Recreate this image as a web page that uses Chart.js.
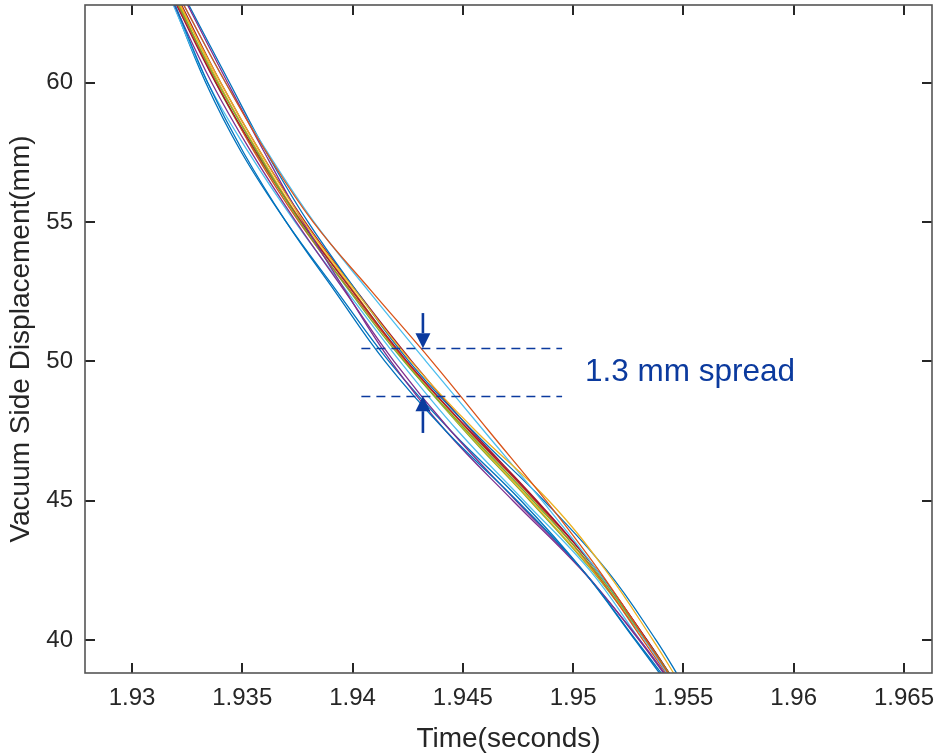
<!DOCTYPE html>
<html>
<head>
<meta charset="utf-8">
<script src="https://cdn.jsdelivr.net/npm/chart.js@4.4.0/dist/chart.umd.min.js"></script>
<style>
  html, body { margin: 0; padding: 0; background: #fff; }
  #wrap { width: 935px; height: 756px; position: relative; }
</style>
</head>
<body>
<div id="wrap"><canvas id="displacementChart"></canvas></div>
<script>
// displacement levels (mm) and the time (s) each run passes them
const levels = [63, 60, 57.5, 55, 52.5, 50, 47.5, 45, 42.5, 40, 38.5];

const run01 = [1.93184, 1.93343, 1.93505, 1.93699, 1.93921, 1.94147, 1.94423, 1.94746, 1.95044, 1.95285, 1.95430];
const run02 = [1.93220, 1.93424, 1.93609, 1.93821, 1.94088, 1.94360, 1.94618, 1.94877, 1.95117, 1.95331, 1.95457];
const run03 = [1.93202, 1.93402, 1.93582, 1.93780, 1.94016, 1.94265, 1.94559, 1.94890, 1.95148, 1.95362, 1.95480];
const run04 = [1.93238, 1.93433, 1.93600, 1.93776, 1.93970, 1.94174, 1.94423, 1.94727, 1.95040, 1.95303, 1.95443];
const run05 = [1.93197, 1.93388, 1.93569, 1.93762, 1.93988, 1.94233, 1.94519, 1.94818, 1.95099, 1.95331, 1.95462];
const run06 = [1.93220, 1.93424, 1.93614, 1.93825, 1.94075, 1.94333, 1.94596, 1.94859, 1.95108, 1.95326, 1.95452];
const run07 = [1.93188, 1.93379, 1.93564, 1.93767, 1.94002, 1.94247, 1.94532, 1.94832, 1.95108, 1.95335, 1.95462];
const run08 = [1.93243, 1.93442, 1.93609, 1.93798, 1.94020, 1.94256, 1.94546, 1.94868, 1.95153, 1.95376, 1.95493];
const run09 = [1.93193, 1.93383, 1.93555, 1.93757, 1.93993, 1.94242, 1.94528, 1.94827, 1.95094, 1.95317, 1.95448];
const run10 = [1.93207, 1.93393, 1.93573, 1.93771, 1.94007, 1.94238, 1.94514, 1.94809, 1.95089, 1.95331, 1.95457];
const run11 = [1.93179, 1.93361, 1.93541, 1.93744, 1.93966, 1.94188, 1.94446, 1.94741, 1.95044, 1.95299, 1.95439];
const run12 = [1.93202, 1.93379, 1.93559, 1.93767, 1.94002, 1.94238, 1.94509, 1.94804, 1.95085, 1.95326, 1.95457];
const run13 = [1.93175, 1.93343, 1.93528, 1.93739, 1.93975, 1.94215, 1.94478, 1.94777, 1.95076, 1.95303, 1.95439];
const run14 = [1.93211, 1.93402, 1.93582, 1.93785, 1.94020, 1.94269, 1.94541, 1.94836, 1.95108, 1.95335, 1.95462];
const run15 = [1.93179, 1.93334, 1.93496, 1.93699, 1.93930, 1.94165, 1.94446, 1.94764, 1.95044, 1.95281, 1.95421];

const runs = [run01, run02, run03, run04, run05, run06, run07, run08, run09, run10, run11, run12, run13, run14, run15];
const runColors = ['#0072BD', '#D95319', '#EDB120', '#7E2F8E', '#77AC30', '#4DBEEE', '#A2142F'];

const xTicks = [1.93, 1.935, 1.94, 1.945, 1.95, 1.955, 1.96, 1.965];
const xTickLabels = ['1.93', '1.935', '1.94', '1.945', '1.95', '1.955', '1.96', '1.965'];
const yTicks = [40, 45, 50, 55, 60];
const yTickLabels = ['40', '45', '50', '55', '60'];
const xRange = [1.92787, 1.96627];
const yRange = [38.82, 62.78];

// spread annotation
const spreadLines = [50.47, 48.75];
const spreadFrom = 1.9404;
const spreadTo = 1.9495;
const arrowAt = 1.94319;
const arrowTails = [51.73, 47.43];
const spreadLabel = '1.3 mm spread';
const labelAt = [1.95054, 49.29];

const ink = '#262626';
const annoColor = '#0b3a9e';
const fontFamily = '"Liberation Sans", Arial, Helvetica, sans-serif';

const spreadPlugin = {
    id: 'spread',
    afterDatasetsDraw(chart) {
        const { ctx, scales: { x, y } } = chart;
        ctx.save();
        ctx.strokeStyle = annoColor;
        ctx.fillStyle = annoColor;

        // dashed lines
        ctx.lineWidth = 1.6;
        ctx.setLineDash([9, 6]);
        spreadLines.forEach(v => {
            const py = Math.round(y.getPixelForValue(v)) + 0.5;
            ctx.beginPath();
            ctx.moveTo(x.getPixelForValue(spreadFrom), py);
            ctx.lineTo(x.getPixelForValue(spreadTo), py);
            ctx.stroke();
        });
        ctx.setLineDash([]);

        // arrows pointing at the lines
        const ax = x.getPixelForValue(arrowAt);
        spreadLines.forEach((v, i) => {
            const tip = y.getPixelForValue(v);
            const tail = y.getPixelForValue(arrowTails[i]);
            const dir = tail < tip ? 1 : -1;
            const head = 15;
            ctx.lineWidth = 2.6;
            ctx.beginPath();
            ctx.moveTo(ax, tail);
            ctx.lineTo(ax, tip - dir * head);
            ctx.stroke();
            ctx.beginPath();
            ctx.moveTo(ax, tip);
            ctx.lineTo(ax - 7.5, tip - dir * head);
            ctx.lineTo(ax + 7.5, tip - dir * head);
            ctx.closePath();
            ctx.fill();
        });

        ctx.font = '31.5px ' + fontFamily;
        ctx.textAlign = 'left';
        ctx.textBaseline = 'alphabetic';
        ctx.fillText(spreadLabel, x.getPixelForValue(labelAt[0]), y.getPixelForValue(labelAt[1]));
        ctx.restore();
    }
};

const framePlugin = {
    id: 'frame',
    afterDraw(chart) {
        const { ctx, chartArea: a, scales: { x, y } } = chart;
        const len = 10;
        ctx.save();
        ctx.strokeStyle = ink;
        ctx.lineWidth = 2;
        ctx.beginPath();
        xTicks.forEach(t => {
            const px = Math.round(x.getPixelForValue(t));
            ctx.moveTo(px, a.bottom); ctx.lineTo(px, a.bottom - len);
            ctx.moveTo(px, a.top); ctx.lineTo(px, a.top + len);
        });
        yTicks.forEach(t => {
            const py = Math.round(y.getPixelForValue(t));
            ctx.moveTo(a.left, py); ctx.lineTo(a.left + len, py);
            ctx.moveTo(a.right, py); ctx.lineTo(a.right - len, py);
        });
        ctx.stroke();
        ctx.strokeStyle = '#555555';
        ctx.lineWidth = 1.6;
        ctx.strokeRect(a.left, a.top, a.right - a.left, a.bottom - a.top);
        ctx.restore();
    }
};

function createDisplacementChart() {
    const ctx = document.getElementById('displacementChart');
    if (!ctx) return;
    new Chart(ctx, {
        type: 'line',
        data: {
            datasets: runs.map((r, i) => ({
                data: levels.map((v, j) => ({ x: r[j], y: v })),
                borderColor: runColors[i % runColors.length],
                borderWidth: 1.3,
                pointRadius: 0,
                tension: 0.4,
                fill: false
            }))
        },
        options: {
            responsive: true,
            maintainAspectRatio: false,
            animation: false,
            layout: { padding: { top: 5, right: 3, left: 0, bottom: 0 } },
            plugins: {
                legend: { display: false },
                tooltip: { enabled: false }
            },
            scales: {
                x: {
                    type: 'linear',
                    min: xRange[0],
                    max: xRange[1],
                    grid: { display: false, drawTicks: false },
                    border: { display: false },
                    afterBuildTicks: s => { s.ticks = xTicks.map(v => ({ value: v })); },
                    afterFit: s => {
                        s.height = 83;
                        s.paddingLeft = 0; s.paddingRight = 0;
                    },
                    ticks: {
                        autoSkip: false,
                        maxRotation: 0,
                        padding: 11,
                        color: ink,
                        font: { size: 24, family: fontFamily },
                        callback: (v, i) => xTickLabels[i]
                    },
                    title: {
                        display: true,
                        text: 'Time(seconds)',
                        color: ink,
                        padding: 0,
                        font: { size: 28, family: fontFamily }
                    }
                },
                y: {
                    type: 'linear',
                    min: yRange[0],
                    max: yRange[1],
                    grid: { display: false, drawTicks: false },
                    border: { display: false },
                    afterBuildTicks: s => { s.ticks = yTicks.map(v => ({ value: v })); },
                    afterFit: s => {
                        s.width = 85;
                        s.paddingTop = 0; s.paddingBottom = 0;
                    },
                    ticks: {
                        autoSkip: false,
                        padding: 12,
                        color: ink,
                        font: { size: 24, family: fontFamily },
                        callback: (v, i) => yTickLabels[i]
                    },
                    title: {
                        display: true,
                        text: 'Vacuum Side Displacement(mm)',
                        color: ink,
                        padding: 4,
                        font: { size: 28, family: fontFamily }
                    }
                }
            }
        },
        plugins: [spreadPlugin, framePlugin]
    });
}

document.addEventListener('DOMContentLoaded', () => {
    createDisplacementChart();
});
</script>
</body>
</html>
